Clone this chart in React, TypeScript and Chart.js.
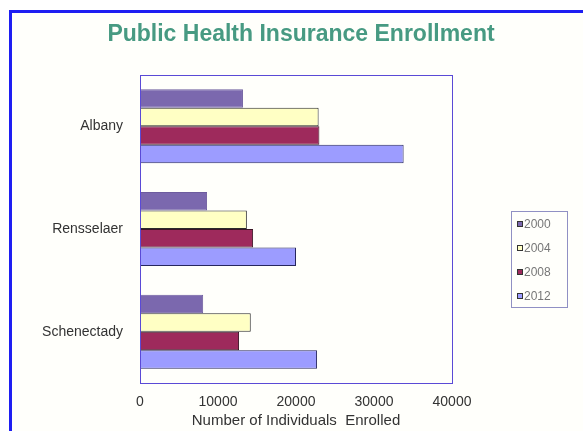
import React, { useEffect, useRef } from "react";
import { Chart, registerables } from "chart.js";

Chart.register(...registerables);

const chartTitle = "Public Health Insurance Enrollment";
const axisTitle = "Number of Individuals  Enrolled";
const categories = ["Albany", "Rensselaer", "Schenectady"];
const seriesLabels = ["2000", "2004", "2008", "2012"];
const values2000 = [13200, 8600, 8100];
const values2004 = [22900, 13700, 14200];
const values2008 = [23000, 14500, 12700];
const values2012 = [33800, 20000, 22700];
const xTickValues = [0, 10000, 20000, 30000, 40000];

const fills = ["#7b68ae", "#ffffc4", "#9e2a5c", "#9c9cff"];
const borders = ["#6d5c9e", "#2a2a2a", "#3a1424", "#26265e"];

const FONT = "'Liberation Sans', Arial, sans-serif";

const decor = {
  id: "decor",
  afterDatasetsDraw(chart: any) {
    const { ctx, chartArea: a } = chart;
    ctx.save();
    ctx.strokeStyle = "#5a4ad6";
    ctx.lineWidth = 1;
    ctx.strokeRect(Math.round(a.left) + 0.5, Math.round(a.top) + 0.5, Math.round(a.right - a.left), Math.round(a.bottom - a.top));
    ctx.restore();
  },
  afterDraw(chart: any) {
    const { ctx } = chart;
    ctx.save();
    ctx.font = `bold 23px ${FONT}`;
    ctx.fillStyle = "#479a82";
    ctx.textAlign = "center";
    ctx.textBaseline = "middle";
    ctx.fillText(chartTitle, 301, 35);

    // legend
    const bx = 511, by = 211, bw = 56, bh = 96;
    ctx.strokeStyle = "#9090c4";
    ctx.lineWidth = 1;
    ctx.strokeRect(bx + 0.5, by + 0.5, bw, bh);
    ctx.font = `12px ${FONT}`;
    ctx.textAlign = "left";
    chart.data.datasets.forEach((ds: any, i: number) => {
      const y = 224 + i * 24;
      ctx.fillStyle = ds.backgroundColor;
      ctx.fillRect(517, y - 3, 6, 6);
      ctx.strokeStyle = "#333";
      ctx.strokeRect(517.5, y - 2.5, 5, 5);
      ctx.fillStyle = "#777";
      ctx.fillText(ds.label, 524, y + 1);
    });
    ctx.restore();
  },
};

export default function App() {
  const ref = useRef<HTMLCanvasElement | null>(null);
  useEffect(() => {
    const prevMargin = document.body.style.margin;
    document.body.style.margin = "0";
    const seriesValues = [values2000, values2004, values2008, values2012];
    const chart = new Chart(ref.current as HTMLCanvasElement, {
      type: "bar",
      data: {
        labels: categories,
        datasets: seriesLabels.map((label, i) => ({
          label,
          data: seriesValues[i],
          backgroundColor: fills[i],
          borderColor: borders[i],
          borderWidth: 1,
          categoryPercentage: 0.72,
          barPercentage: 1.0,
        })),
      },
      options: {
        indexAxis: "y",
        animation: false,
        responsive: false,
        events: [],
        layout: { padding: { left: 10, right: 131, top: 75, bottom: 0 } },
        plugins: {
          legend: { display: false },
          title: { display: false },
          tooltip: { enabled: false },
        },
        scales: {
          y: {
            type: "category",
            offset: true,
            grid: { display: false, drawTicks: false },
            border: { display: false },
            ticks: { font: { size: 14, family: FONT }, color: "#333", padding: 17 },
            afterFit: (s: any) => { s.width = 130; },
          },
          x: {
            type: "linear",
            min: 0,
            max: 40000,
            afterBuildTicks: (s: any) => { s.ticks = xTickValues.map((v) => ({ value: v })); },
            grid: { display: false, drawTicks: false },
            border: { display: false },
            ticks: {
              font: { size: 14, family: FONT },
              color: "#333",
              padding: 11,
              callback: (v: any) => String(v),
            },
            title: {
              display: true,
              text: axisTitle,
              font: { size: 15, family: FONT },
              color: "#333",
              padding: { top: 0, bottom: 1 },
            },
            afterFit: (s: any) => { s.height = 48; },
          },
        },
      },
      plugins: [decor],
    } as any);
    return () => {
      chart.destroy();
      document.body.style.margin = prevMargin;
    };
  }, []);

  return (
    <div style={{ position: "fixed", left: 0, top: 0, width: 583, height: 431, overflow: "hidden", background: "#ffffff" }}>
      <div
        style={{
          position: "absolute",
          left: 9,
          top: 10,
          width: 620,
          height: 460,
          border: "3px solid #1e1ef2",
          background: "#fffffb",
        }}
      />
      <canvas ref={ref} width={583} height={431} style={{ position: "absolute", left: 0, top: 0 }} />
    </div>
  );
}
